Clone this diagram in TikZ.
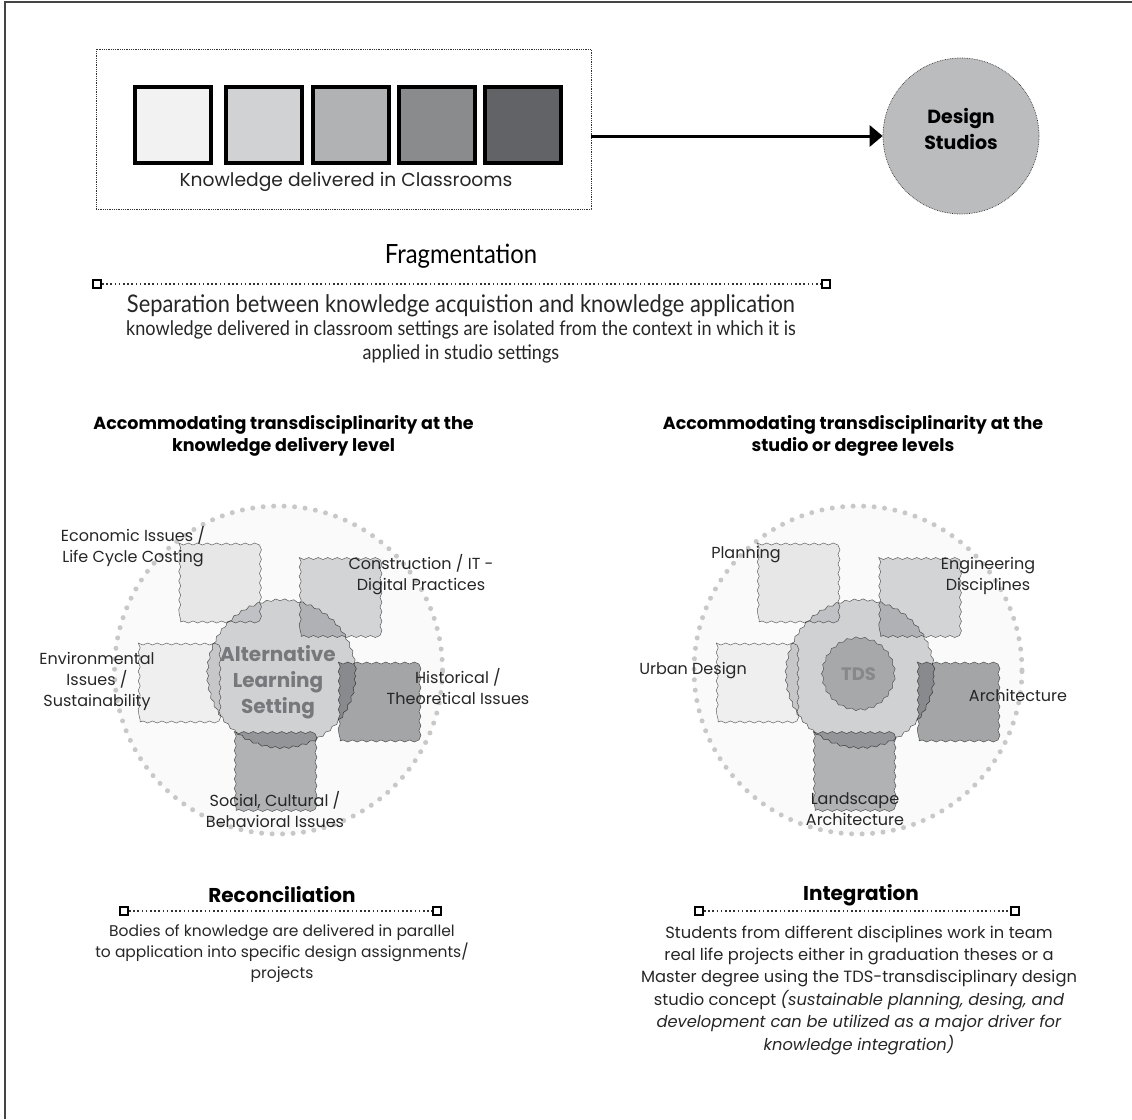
\documentclass[tikz,border=0pt]{standalone}
\usepackage{fontspec}
\setmainfont{Poppins}
\newfontfamily\condfont[FakeStretch=0.9]{Lato}
\usetikzlibrary{decorations.pathmorphing,arrows.meta,calc}
\definecolor{sqA}{HTML}{F2F2F2}
\definecolor{sqB}{HTML}{D1D2D4}
\definecolor{sqC}{HTML}{B1B2B4}
\definecolor{sqD}{HTML}{8A8B8D}
\definecolor{sqE}{HTML}{626366}
\definecolor{dsfill}{HTML}{BBBCBE}
\definecolor{wEcon}{HTML}{ECECED}
\definecolor{wCons}{HTML}{D8D9DA}
\definecolor{wEnv}{HTML}{F4F4F4}
\definecolor{wHist}{HTML}{A8A9AB}
\definecolor{wSoc}{HTML}{B5B6B8}
\definecolor{wCore}{HTML}{D0D1D3}
\definecolor{wTds}{HTML}{A7A8AA}
\definecolor{coreTxt}{HTML}{77787B}
\definecolor{tdsTxt}{HTML}{87888A}
\definecolor{dotgray}{HTML}{C8C8C8}
\definecolor{edge}{HTML}{444444}
\begin{document}
\begin{tikzpicture}[x=1pt,y=-1pt,
  kbsq/.style={draw=black, line width=4pt, minimum size=76pt, inner sep=0pt},
  wsq/.style={draw=edge!80, line width=0.5pt, decorate,
    decoration={snake, amplitude=1pt, segment length=9.5pt},
    minimum size=77pt, inner sep=0pt},
  wcirc/.style={circle, draw=edge!90, line width=0.5pt, decorate,
    decoration={snake, amplitude=1pt, segment length=9pt}, inner sep=0pt},
  dotcirc/.style={circle, draw=dotgray, fill=white!98!black, line width=5pt,
    dash pattern=on 0pt off 10.5pt, line cap=round, minimum size=328pt, inner sep=0pt},
  lbl/.style={font=\fontsize{16}{21}\selectfont, align=center, inner sep=0pt, text=black!85},
  hdr/.style={font=\bfseries\fontsize{17.5}{22}\selectfont, align=center, inner sep=0pt},
  ttl/.style={font=\bfseries\fontsize{20}{22}\selectfont, inner sep=0pt},
  desc/.style={font=\fontsize{15.5}{21}\selectfont, align=center, inner sep=0pt, text=black!85},
  endsq/.style={draw=black, fill=white, line width=2pt, minimum size=8pt, inner sep=0pt},
  dotline/.style={black!80, line width=1.6pt, dash pattern=on 1.6pt off 2.6pt}
]
\useasboundingbox (0,0) rectangle (1132,1119);
% frame
\draw[edge, line width=1.5pt] (5,1119) -- (5,2) -- (1132,2);

% ---------- top: classrooms -> design studios
\node[draw=black!80, densely dotted, line width=0.8pt, minimum width=495pt, minimum height=160pt, inner sep=0pt] (kbox) at (343.5,129) {};
\node[kbsq, fill=sqA] (k1) at (173,125) {};
\node[kbsq, fill=sqB] (k2) at (264,125) {};
\node[kbsq, fill=sqC] (k3) at (350.5,125) {};
\node[kbsq, fill=sqD] (k4) at (437,125) {};
\node[kbsq, fill=sqE] (k5) at (523,125) {};
\node[font=\fontsize{18.7}{20}\selectfont, text=black!85, inner sep=0pt] (ktext) at (346,182) {Knowledge delivered in Classrooms};
\node[circle, fill=dsfill, draw=black!80, densely dotted, line width=0.7pt, minimum size=156pt, inner sep=0pt] (ds) at (961,136) {};
\node[font=\bfseries\fontsize{19}{26}\selectfont, align=center, inner sep=0pt] (dstext) at (961,129) {Design\\Studios};
\draw[black, line width=3pt, -{Triangle[length=13pt,width=21pt]}] (kbox.east |- ds.west) -- (ds.west);

% ---------- Fragmentation
\node[font=\condfont\fontsize{26.5}{30}\selectfont, inner sep=0pt] (fragt) at (461,256) {Fragmentation};
\node[endsq] (fa) at (97,284) {};
\node[endsq] (fb) at (826,284) {};
\draw[dotline] (fa) -- (fb);
\node[font=\condfont\fontsize{24.3}{28}\selectfont, inner sep=0pt, text=black!85] (fragd1) at (461,306) {Separation between knowledge acquistion and knowledge application};
\node[font=\condfont\fontsize{20.1}{23.5}\selectfont, align=center, inner sep=0pt, text=black!85] (fragd2) at (461,342) {knowledge delivered in classroom settings are isolated from the context in which it is\\applied in studio settings};

% ---------- left cluster
\node[hdr] (lhdr) at (283.5,436) {Accommodating transdisciplinarity at the\\knowledge delivery level};
\node[dotcirc] (ldot) at (278.5,670) {};
\node[wcirc, fill=wCore, minimum size=148pt] (lcore) at (281.5,676) {};
\begin{scope}[blend mode=multiply]
\node[wsq, fill=wEcon] (lecon) at (219,583.5) {};
\node[wsq, fill=wCons] (lcons) at (339.5,598) {};
\node[wsq, fill=wEnv] (lenv) at (178.5,683.5) {};
\node[wsq, fill=wHist] (lhist) at (378.5,702.5) {};
\node[wsq, fill=wSoc] (lsoc) at (274.5,772) {};
\end{scope}
\node[font=\bfseries\fontsize{20}{26}\selectfont, align=center, text=coreTxt, inner sep=0pt] (lcoret) at (278,682) {Alternative\\Learning\\Setting};
\node[lbl] (leconl) at (133,546.5) {Economic Issues /\\Life Cycle Costing};
\node[lbl] (lconsl) at (421,575) {Construction / IT -\\Digital Practices};
\node[lbl] (lenvl) at (97,681) {Environmental\\Issues /\\Sustainability};
\node[lbl] (lhistl) at (458,686.5) {Historical /\\Theoretical Issues};
\node[lbl] (lsocl) at (275,809.5) {Social, Cultural /\\Behavioral Issues};

% ---------- right cluster
\node[hdr] (rhdr) at (853,436) {Accommodating transdisciplinarity at the\\studio or degree levels};
\node[dotcirc] (rdot) at (858,670) {};
\node[wcirc, fill=wCore, minimum size=148pt] (rcore) at (860,676) {};
\begin{scope}[blend mode=multiply]
\node[wsq, fill=wEcon] (rplan) at (797.5,583.5) {};
\node[wsq, fill=wCons] (reng) at (919,598) {};
\node[wsq, fill=wEnv] (rurb) at (756.5,683.5) {};
\node[wsq, fill=wHist] (rarch) at (957.5,702.5) {};
\node[wsq, fill=wSoc] (rland) at (853.5,772) {};
\end{scope}
\node[wcirc, fill=wTds, minimum size=72pt] (rtds) at (858.5,676) {};
\node[font=\bfseries\fontsize{18}{20}\selectfont, text=tdsTxt, inner sep=0pt] (rtdst) at (858.5,674) {TDS};
\node[lbl] (rplanl) at (746,555) {Planning};
\node[lbl] (rengl) at (988,576) {Engineering\\Disciplines};
\node[lbl] (rurbl) at (693,671) {Urban Design};
\node[lbl] (rarchl) at (1018,695) {Architecture};
\node[lbl] (rlandl) at (855,809.5) {Landscape\\Architecture};

% ---------- Reconciliation
\node[ttl] (rect) at (282,895) {Reconciliation};
\node[endsq] (ra) at (124,911) {};
\node[endsq] (rb) at (437,911) {};
\draw[dotline] (ra) -- (rb);
\node[desc] (recd) at (282,954) {Bodies of knowledge are delivered in parallel\\to application into specific design assignments/\\projects};

% ---------- Integration
\node[ttl] (intt) at (861,895) {Integration};
\node[endsq] (ia) at (699,911) {};
\node[endsq] (ib) at (1015,911) {};
\draw[dotline] (ia) -- (ib);
\node[font=\fontsize{16.3}{22.4}\selectfont, align=center, inner sep=0pt, text=black!85] (intd) at (859,990) {Students from different disciplines work in team\\real life projects either in graduation theses or a\\Master degree using the TDS-transdisciplinary design\\studio concept \textit{(sustainable planning, desing, and}\\\textit{development can be utilized as a major driver for}\\\textit{knowledge integration)}};
\end{tikzpicture}
\end{document}
